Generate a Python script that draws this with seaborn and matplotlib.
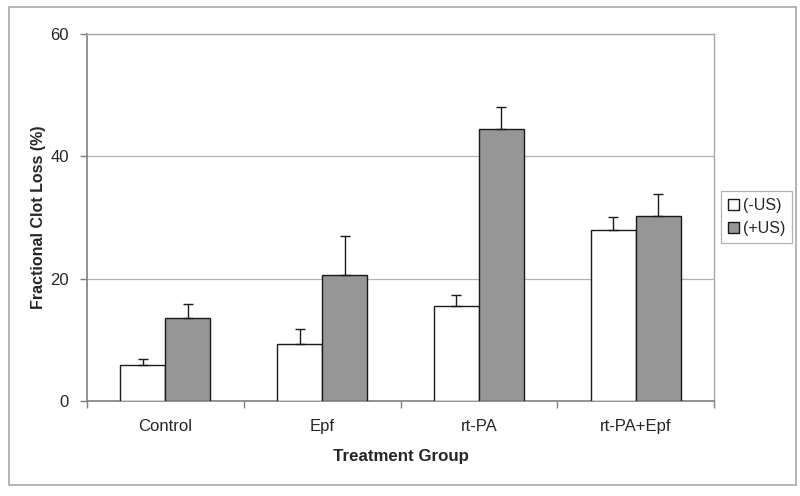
import matplotlib
matplotlib.use("Agg")
import matplotlib.pyplot as plt
import seaborn as sns
import pandas as pd
from matplotlib.patches import Rectangle

categories = ['Control', 'Epf', 'rt-PA', 'rt-PA+Epf']
series_names = ['(-US)', '(+US)']
minus_us = [5.9, 9.3, 15.6, 28.0]
plus_us = [13.5, 20.6, 44.5, 30.3]
minus_err = [0.9, 2.5, 1.7, 2.1]
plus_err = [2.3, 6.3, 3.5, 3.6]
y_ticks = [0, 20, 40, 60]

sns.set_theme(style="white")
plt.rcParams['font.family'] = ['Liberation Sans', 'DejaVu Sans']

df = pd.DataFrame({
    'group': categories * 2,
    'series': [series_names[0]] * 4 + [series_names[1]] * 4,
    'value': minus_us + plus_us,
})

fig = plt.figure(figsize=(8, 4.96), dpi=100)
ax = fig.add_axes([87/800, 1 - 401/496, (714 - 87)/800, (401 - 34)/496])

sns.barplot(data=df, x='group', y='value', hue='series', order=categories,
            hue_order=series_names,
            palette={'(-US)': 'white', '(+US)': '#969696'},
            width=0.574, edgecolor='#1a1a1a', linewidth=1.0,
            errorbar=None, ax=ax, zorder=3)

for cont, errs in zip(ax.containers, [minus_err, plus_err]):
    xs = [b.get_x() + b.get_width() / 2 for b in cont]
    hs = [b.get_height() for b in cont]
    ax.errorbar(xs, hs, yerr=[[0] * len(errs), errs], fmt='none',
                ecolor='#1a1a1a', elinewidth=1.0, capsize=3.5, capthick=1.0,
                zorder=4)

ax.set_xlim(-0.5, 3.5)
ax.set_ylim(0, 60)
ax.set_yticks(y_ticks)
ax.set_yticklabels([str(v) for v in y_ticks], fontsize=12)
ax.set_xticks(range(len(categories)))
ax.set_xticklabels(categories, fontsize=12)
ax.tick_params(axis='x', which='major', length=0, pad=13)
ax.set_xticks([-0.5, 0.5, 1.5, 2.5, 3.5], minor=True)
ax.tick_params(axis='x', which='minor', length=5, color='#808080', width=1, bottom=True)
ax.tick_params(axis='y', which='major', length=5, color='#808080', width=1, left=True, pad=8)

ax.yaxis.grid(True, color='#b4b4b4', linewidth=0.9, zorder=0)
ax.set_axisbelow(True)
for side in ['top', 'right']:
    ax.spines[side].set_color('#a8a8a8')
    ax.spines[side].set_linewidth(1.0)
for side in ['left', 'bottom']:
    ax.spines[side].set_color('#808080')
    ax.spines[side].set_linewidth(1.2)

ax.set_xlabel('Treatment Group', fontsize=12.2, fontweight='bold', labelpad=11)
ax.set_ylabel('Fractional Clot Loss (%)', fontsize=11.5, fontweight='bold', labelpad=3)

leg = ax.legend(loc='upper left', bbox_to_anchor=((721 - 87) / 627, (401 - 191) / 367),
                fontsize=11.5, frameon=True, fancybox=False, edgecolor='#a0a0a0',
                handlelength=0.65, handleheight=0.65, handletextpad=0.25,
                borderpad=0.45, labelspacing=0.5, borderaxespad=0)
leg.get_frame().set_linewidth(0.9)

fig.patches.append(Rectangle((9/800, 1 - 485/496), (796 - 9)/800, (485 - 7)/496,
                             transform=fig.transFigure, fill=False,
                             edgecolor='#a8a8a8', linewidth=1.2))

fig.savefig('out.png', dpi=100)
